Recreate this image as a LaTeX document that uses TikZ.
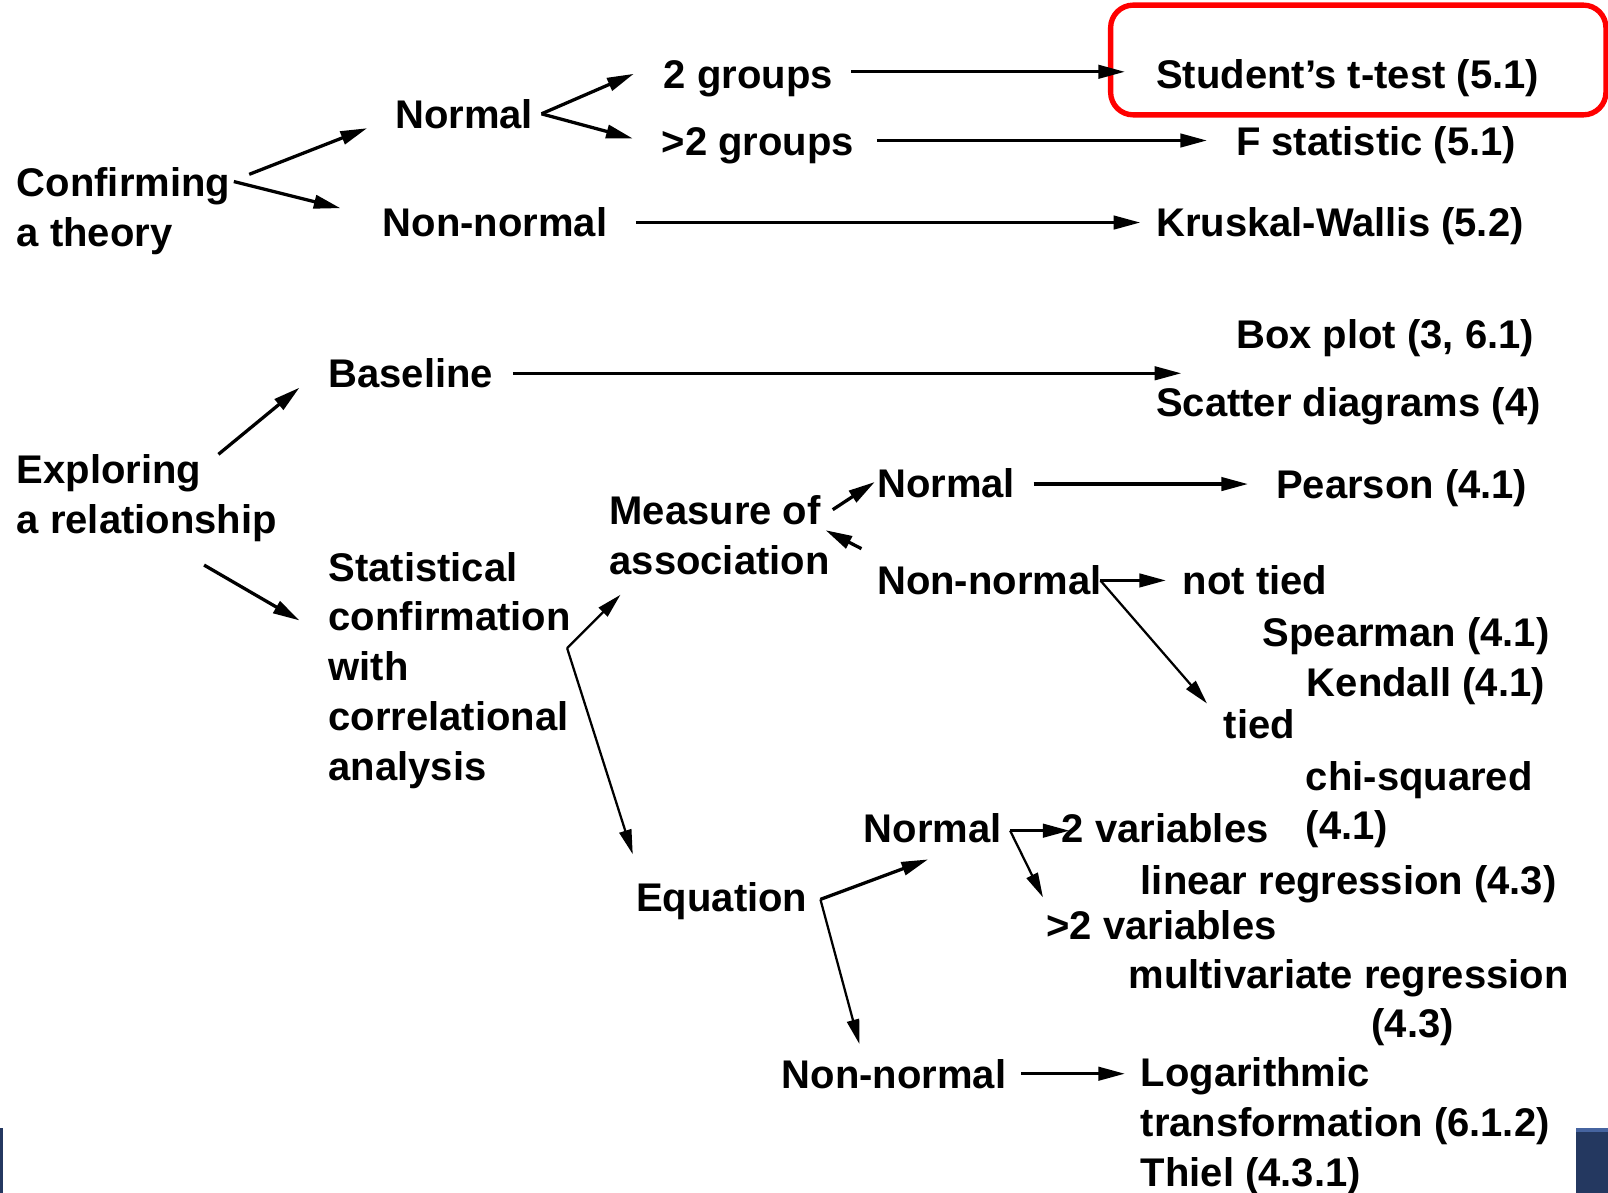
\documentclass[tikz,border=0pt]{standalone}
\usepackage{fontspec}
\setmainfont{Liberation Sans}
\usetikzlibrary{arrows.meta}
\definecolor{navy}{RGB}{36,56,96}
\definecolor{navylight}{RGB}{70,100,160}
\begin{document}
\begin{tikzpicture}[x=0.5pt,y=-0.5pt,
  lbl/.style={anchor=base west, inner sep=0pt, font=\fontsize{19.5}{24.3}\selectfont\bfseries, align=left},
  arr/.style={line width=1.6pt, -{Triangle[length=13pt,width=6.5pt]}},
  tarr/.style={line width=1.1pt, -{Triangle[length=12pt,width=6pt]}}]
\useasboundingbox[fill=white] (0,0) rectangle (1568,1163);

% highlight box
\draw[red, line width=2.6pt, rounded corners=11pt] (1083,5) rectangle (1566,112);

% ---------- top part ----------
\node[lbl] (conf) at (16,240) {Confirming\\a theory};
\node[lbl] (normA) at (385,125) {Normal};
\node[lbl] (nonA) at (373,231) {Non-normal};
\node[lbl] (g2) at (647,86) {2 groups};
\node[lbl] (g2p) at (645,152) {>2 groups};
\node[lbl] (stud) at (1127,86) {Student’s t-test (5.1)};
\node[lbl] (fstat) at (1205,152) {F statistic (5.1)};
\node[lbl] (krus) at (1127,231) {Kruskal-Wallis (5.2)};

% ---------- middle part ----------
\node[lbl] (box) at (1205,340) {Box plot (3, 6.1)};
\node[lbl] (base) at (320,378) {Baseline};
\node[lbl] (scat) at (1127,406) {Scatter diagrams (4)};
\node[lbl] (expl) at (16,520) {Exploring\\a relationship};
\node[lbl] (stat) at (320,761) {Statistical\\confirmation\\with\\correlational\\analysis};
\node[lbl] (meas) at (594,560) {Measure of\\association};
\node[lbl] (normB) at (855,485) {Normal};
\node[lbl] (nonB) at (855,580) {Non-normal};
\node[lbl] (pear) at (1244,486) {Pearson (4.1)};
\node[lbl] (nottied) at (1153,580) {not tied};
\node[lbl] (spear) at (1231,630) {Spearman (4.1)};
\node[lbl] (kend) at (1274,679) {Kendall (4.1)};
\node[lbl] (tied) at (1193,720) {tied};
\node[lbl] (chi) at (1273,819) {chi-squared\\(4.1)};

% ---------- bottom part ----------
\node[lbl] (normC) at (842,822) {Normal};
\node[lbl] (eq) at (620,889) {Equation};
\node[lbl] (nonC) at (762,1061) {Non-normal};
\node[lbl] (var2) at (1035,822) {2 variables};
\node[lbl] (linreg) at (1112,872) {linear regression (4.3)};
\node[lbl] (var2p) at (1020,916) {>2 variables};
\node[lbl] (mvr) at (1100,964) {multivariate regression};
\node[lbl] (mvr2) at (1337,1012) {(4.3)};
\node[lbl] (loga) at (1112,1157) {Logarithmic\\transformation (6.1.2)\\Thiel (4.3.1)};

% ---------- connector end points ----------
\coordinate (confA) at (243,170);   \coordinate (normAin) at (358,125);
\coordinate (confB) at (228,177);   \coordinate (nonAin) at (332,203);
\coordinate (normAout) at (528,111);
\coordinate (g2in) at (618,72);     \coordinate (g2pin) at (617,135);
\coordinate (g2out) at (830,70);    \coordinate (studin) at (1097,70);
\coordinate (g2pout) at (855,137);  \coordinate (fstatin) at (1177,137);
\coordinate (nonAout) at (620,217); \coordinate (krusin) at (1112,217);

\coordinate (baseout) at (500,364); \coordinate (scatin) at (1152,364);
\coordinate (explA) at (213,443);   \coordinate (basein) at (292,378);
\coordinate (explB) at (199,551);   \coordinate (statin) at (292,605);
\coordinate (statout) at (553,632);
\coordinate (measin) at (605,580);  \coordinate (eqin) at (617,833);
\coordinate (measA) at (812,497);   \coordinate (normBin) at (853,470);
\coordinate (nonBtail) at (840,535); \coordinate (measB) at (805,517);
\coordinate (normBout) at (1008,472); \coordinate (pearin) at (1217,472);
\coordinate (nonBout) at (1073,566);
\coordinate (nottiedin) at (1137,566); \coordinate (tiedin) at (1177,686);

\coordinate (eqout) at (800,877);
\coordinate (normCin) at (905,838);  \coordinate (nonCin) at (838,1018);
\coordinate (normCout) at (985,810);
\coordinate (var2in) at (1043,810);  \coordinate (var2pin) at (1017,875);
\coordinate (nonCout) at (996,1047); \coordinate (logain) at (1097,1047);

% ---------- connectors ----------
\draw[arr] (confA) -- (normAin);
\draw[arr] (confB) -- (nonAin);
\draw[arr] (normAout) -- (g2in);
\draw[arr] (normAout) -- (g2pin);
\draw[arr] (g2out) -- (studin);
\draw[arr] (g2pout) -- (fstatin);
\draw[arr] (nonAout) -- (krusin);

\draw[arr] (baseout) -- (scatin);
\draw[arr] (explA) -- (basein);
\draw[arr] (explB) -- (statin);
\draw[tarr] (statout) -- (measin);
\draw[tarr] (statout) -- (eqin);
\draw[arr] (measA) -- (normBin);
\draw[arr] (nonBtail) -- (measB);
\draw[arr] (normBout) -- (pearin);
\draw[arr] (nonBout) -- (nottiedin);
\draw[tarr] (nonBout) -- (tiedin);

\draw[arr] (eqout) -- (normCin);
\draw[tarr] (eqout) -- (nonCin);
\draw[arr] (normCout) -- (var2in);
\draw[tarr] (normCout) -- (var2pin);
\draw[arr] (nonCout) -- (logain);

% ---------- edge bars ----------
\fill[navy] (0,1100) rectangle (3,1163);
\fill[navy] (1537,1100) rectangle (1568,1163);
\fill[navylight] (1537,1100) rectangle (1568,1104);
\end{tikzpicture}
\end{document}
